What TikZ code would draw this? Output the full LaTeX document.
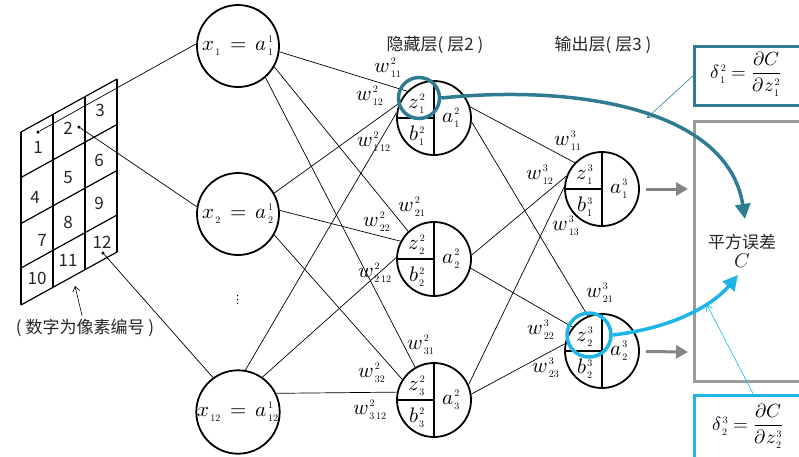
\documentclass[tikz,border=0pt]{standalone}
\usepackage{amsmath,amssymb}
\usepackage{fontspec}
\usepackage{unicode-math}
\setmathfont{Latin Modern Math}
\newfontfamily\cjk{Noto Sans CJK SC}
\usepackage{tikz}
\usetikzlibrary{arrows.meta,calc}
\definecolor{deltaone}{HTML}{2F7C92}
\definecolor{deltatwo}{HTML}{1CB5E6}
\definecolor{costgray}{HTML}{9C9C9C}
\definecolor{outgray}{HTML}{858585}
\newcommand{\wix}[1]{\mbox{\kern1pt\fontsize{10}{11}\selectfont #1}}

\tikzset{
  mathbig/.style={font=\fontsize{21}{24}\selectfont},
  inputnode/.style={circle, draw, line width=1.8pt, minimum size=82pt, inner sep=0pt, mathbig},
  unitnode/.style={circle, draw, line width=1.8pt, minimum size=74pt, inner sep=0pt},
  wlabel/.style={mathbig, inner sep=0pt},
  cjktext/.style={font=\cjk\fontsize{17}{21}\selectfont, text=black!85},
  pixnum/.style={font=\cjk\fontsize{17}{20}\selectfont, text=black!85, inner sep=0pt},
  pixdot/.style={circle, fill, inner sep=0pt, minimum size=3.5pt},
  link/.style={line width=0.7pt},
  outarrow/.style={outgray, line width=3pt, -{Triangle[length=12pt,width=13pt]}},
  bigcurve/.style={line width=3.5pt, -{Triangle[length=15pt,width=15pt]}},
  thinpointer/.style={line width=0.6pt, -{Straight Barb[length=5pt,width=7pt]}}
}

\begin{document}
\begin{tikzpicture}[x=1pt, y=-1pt]
  \useasboundingbox (0,0) rectangle (799,456);

  % pixel grid drawn as a slanted sheet
  \foreach \cl in {0,...,3} {
    \pgfmathsetmacro{\gx}{21+32*\cl}
    \pgfmathsetmacro{\gy}{132-0.552*32*\cl}
    \draw[line width=1.2pt] (\gx,\gy) -- (\gx,\gy+173);
  }
  \foreach \dy in {0,45.5,91.5,136,173}
    \draw[line width=1.2pt] (21,132+\dy) -- (117,79+\dy);
  \foreach \n/\gx/\gy in {1/38/147, 2/68/128, 3/100/110, 4/35/197, 5/68/178, 6/99/160,
                          7/42/240, 8/68/222, 9/99/203, 10/37/278, 11/68/260, 12/102/242}
    \node[pixnum] (px\n) at (\gx,\gy) {\n};
  \node[pixdot] (p1) at (38,132) {};
  \node[pixdot] (p2) at (79,127) {};
  \node[pixdot] (p12) at (103,253) {};

  \node[cjktext] (note) at (85,328) {( 数字为像素编号 )};
  \coordinate (gridpt) at (75,286);
  \draw[thinpointer] (note) -- (gridpt);

  % input layer
  \node[inputnode] (x1) at (238,46) {$x_{\wix{1}} \,=\, a^{\wix{1}}_{\wix{1}}$};
  \node[inputnode] (x2) at (238,214) {$x_{\wix{2}} \,=\, a^{\wix{1}}_{\wix{2}}$};
  \node[inputnode] (x12) at (238,412) {$x_{\wix{12}} \,=\, a^{\wix{1}}_{\wix{12}}$};
  \node[font=\fontsize{14}{16}\selectfont] (vdots) at (238,300) {$\vdots$};

  \draw[link] (p1) -- (x1.177);
  \draw[link] (p2) -- (x2.170);
  \draw[link] (p12) -- (x12.126);

  % layer titles
  \node[cjktext] (hiddentitle) at (435,45) {隐藏层( 层2 )};
  \node[cjktext] (outputtitle) at (603,45) {输出层( 层3 )};

  % hidden and output units, split into z, b and a
  \foreach \u/\x/\y/\ly/\k in {h1/434/118/2/1, h2/434/259/2/2, h3/434/400/2/3,
                               o1/602/189/3/1, o2/602/351/3/2} {
    \node[unitnode] (\u) at (\x,\y) {};
    \draw[line width=1.8pt] (\u.north) -- (\u.south) (\u.west) -- (\u.center);
    \node[wlabel] (\u z) at (\x-17,\y-14) {$z^{\wix{\ly}}_{\wix{\k}}$};
    \node[wlabel] (\u b) at (\x-17,\y+18) {$b^{\wix{\ly}}_{\wix{\k}}$};
    \node[wlabel] (\u a) at (\x+17,\y) {$a^{\wix{\ly}}_{\wix{\k}}$};
  }

  % weights between the layers
  \foreach \a/\b in {x1.352/h1.135, x1.330/h2.133, x1.311/h3.120,
                     x2.30/h1.157, x2.5/h2.152, x2.330/h3.147,
                     x12.80/h1.172, x12.55/h2.178, x12.26/h3.168,
                     h1.17/o1.136, h1.354/o2.112, h2.6/o1.160,
                     h2.346/o2.141, h3.24/o1.177, h3.9/o2.169}
    \draw[link] (\a) -- (\b);

  \foreach \nm/\ly/\sub/\x/\y in {
    211/2/11/388/68, 212/2/12/370/96, 2112/2/{1\,12}/374/142,
    221/2/21/412/207, 222/2/22/377/222, 2212/2/{2\,12}/375/273,
    231/2/31/421/345, 232/2/32/372/373, 2312/2/{3\,12}/370/410,
    311/3/11/568/141, 312/3/12/540/175, 313/3/13/566/226,
    321/3/21/600/293, 322/3/22/541/330, 323/3/23/546/368%
  } {
    \node[wlabel] (w\nm) at (\x,\y) {$w^{\wix{\ly}}_{\wix{\sub}}$};
  }

  % cost box and outputs
  \node[draw=costgray, line width=2.5pt, anchor=north west, minimum width=130pt,
        minimum height=260pt] (cost) at (693,120) {};
  \node[cjktext, align=center] (costtext) at (742,251)
    {平方误差\\[-2pt]{\fontsize{20}{22}\selectfont$C$}};
  \coordinate (out1) at (688,189);
  \coordinate (out2) at (688,352);
  \draw[outarrow, shorten <=6pt] (o1) -- (out1);
  \draw[outarrow, shorten <=6pt] (o2) -- (out2);

  % error terms
  \node[draw=deltaone, line width=2.5pt, anchor=north west, minimum width=118pt,
        minimum height=59pt] (box1) at (693,45) {};
  \node[font=\fontsize{19}{22}\selectfont] (f1) at (746,74)
    {$\delta^{\wix{2}}_{\wix{1}} = \dfrac{\partial C}{\partial z^{\wix{2}}_{\wix{1}}}$};
  \node[draw=deltatwo, line width=2.5pt, anchor=north west, minimum width=118pt,
        minimum height=80pt] (box2) at (693,394) {};
  \node[font=\fontsize{19}{22}\selectfont] (f2) at (748,426)
    {$\delta^{\wix{3}}_{\wix{2}} = \dfrac{\partial C}{\partial z^{\wix{3}}_{\wix{2}}}$};

  % highlighted z values with their paths to the cost
  \node[circle, draw=deltaone, line width=3.5pt, minimum size=41pt] (hz) at (419,98) {};
  \coordinate (tip1) at (745,219);
  \draw[deltaone, bigcurve] (hz.east) .. controls (580,84) and (728,110) .. (tip1);
  \node[circle, draw=deltatwo, line width=3.5pt, minimum size=44pt] (oz) at (589,335) {};
  \coordinate (tip2) at (738,275);
  \draw[deltatwo, bigcurve] (oz.east) .. controls (672,328) and (712,306) .. (tip2);

  \coordinate (tip3) at (647,118);
  \coordinate (tip4) at (707,305);
  \draw[deltaone, thinpointer] (box1.west) -- (tip3);
  \draw[deltatwo, thinpointer] (box2.north) -- (tip4);
\end{tikzpicture}
\end{document}
